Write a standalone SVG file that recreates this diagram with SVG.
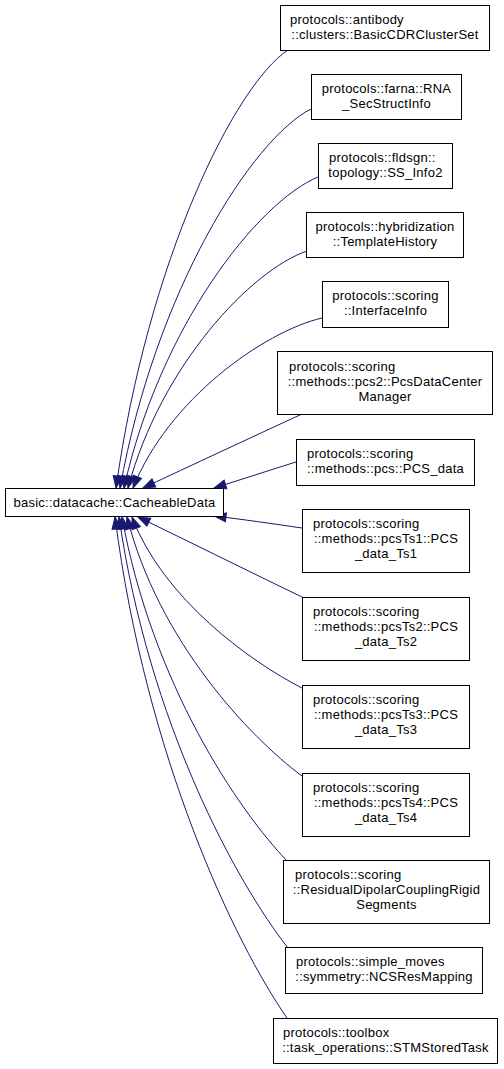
<svg xmlns="http://www.w3.org/2000/svg" width="504" height="1069" viewBox="0 0 504 1069">
<style>
.box{fill:#fff;stroke:#000;stroke-width:1}
.t{font-family:"Liberation Sans",Arial,Helvetica,sans-serif;font-size:13px;letter-spacing:0.25px;fill:#000}
.s{text-anchor:start}
.m{text-anchor:middle}
.e{fill:none;stroke:#191970;stroke-width:1;marker-end:url(#arr)}
</style>
<defs>
<marker id="arr" markerUnits="userSpaceOnUse" markerWidth="14" markerHeight="12" refX="12" refY="5" orient="auto" viewBox="0 0 14 10" overflow="visible">
<path d="M0,0.5 L12,5 L0,9.5 z" fill="#191970" stroke="#191970" stroke-width="1"/>
</marker>
</defs>
<rect width="504" height="1069" fill="#fff"/>
<g id="connectors">
<path class="e" d="M288,50 C235,85 148,260 116,488"/>
<path class="e" d="M311,109 C252,139 155.5,291 120,488"/>
<path class="e" d="M318,177 C258,202 160,326 124,488"/>
<path class="e" d="M307,251 C251.5,270 161,365 128,488"/>
<path class="e" d="M322,318 C263,332 168,400 133,488"/>
<path class="e" d="M302,414 C250,438 190,466 143,488"/>
<path class="e" d="M296,462 C270,470 240,480 214,488"/>
<path class="e" d="M302,528 C275,524 240,519 214,516"/>
<path class="e" d="M302,597 C250,572 190,542 138,517"/>
<path class="e" d="M302,688 C251,662 163,599 132,517"/>
<path class="e" d="M302,776 C249.5,737 158.5,641 127,517"/>
<path class="e" d="M288,862 C238,810 152,683 122,517"/>
<path class="e" d="M288,948 C237,883 149,724 119,517"/>
<path class="e" d="M287,1018 C235,943 146,758 115,517"/>
</g>
<g id="node-base">
<rect class="box" x="5.5" y="488.5" width="218" height="28"/>
<text class="t m" x="114.5" y="507">basic::datacache::CacheableData</text>
</g>
<g id="node-antibody">
<rect class="box" x="280.5" y="5.5" width="209" height="45"/>
<text class="t s" x="290" y="24">protocols::antibody</text>
<text class="t m" x="385" y="39">::clusters::BasicCDRClusterSet</text>
</g>
<g id="node-farna">
<rect class="box" x="311.5" y="74.5" width="150" height="45"/>
<text class="t m" x="386.5" y="93">protocols::farna::RNA</text>
<text class="t m" x="386.5" y="108">_SecStructInfo</text>
</g>
<g id="node-fldsgn">
<rect class="box" x="318.5" y="143.5" width="134" height="45"/>
<text class="t s" x="329" y="162">protocols::fldsgn::</text>
<text class="t m" x="385.5" y="177">topology::SS_Info2</text>
</g>
<g id="node-hybridization">
<rect class="box" x="306.5" y="212.5" width="157" height="45"/>
<text class="t m" x="385" y="231">protocols::hybridization</text>
<text class="t m" x="385" y="246">::TemplateHistory</text>
</g>
<g id="node-interfaceinfo">
<rect class="box" x="322.5" y="281.5" width="126" height="46"/>
<text class="t m" x="385.5" y="300">protocols::scoring</text>
<text class="t m" x="385.5" y="315">::InterfaceInfo</text>
</g>
<g id="node-pcs2">
<rect class="box" x="277.5" y="351.5" width="215" height="63"/>
<text class="t s" x="289" y="371">protocols::scoring</text>
<text class="t m" x="385" y="386">::methods::pcs2::PcsDataCenter</text>
<text class="t m" x="385" y="401">Manager</text>
</g>
<g id="node-pcs">
<rect class="box" x="296.5" y="439.5" width="178" height="46"/>
<text class="t s" x="307" y="458">protocols::scoring</text>
<text class="t m" x="385.5" y="473">::methods::pcs::PCS_data</text>
</g>
<g id="node-pcsts1">
<rect class="box" x="302.5" y="509.5" width="167" height="63"/>
<text class="t s" x="313" y="528">protocols::scoring</text>
<text class="t m" x="386" y="543">::methods::pcsTs1::PCS</text>
<text class="t m" x="386" y="558">_data_Ts1</text>
</g>
<g id="node-pcsts2">
<rect class="box" x="302.5" y="597.5" width="167" height="63"/>
<text class="t s" x="313" y="616">protocols::scoring</text>
<text class="t m" x="386" y="631">::methods::pcsTs2::PCS</text>
<text class="t m" x="386" y="646">_data_Ts2</text>
</g>
<g id="node-pcsts3">
<rect class="box" x="302.5" y="685.5" width="167" height="63"/>
<text class="t s" x="313" y="704">protocols::scoring</text>
<text class="t m" x="386" y="719">::methods::pcsTs3::PCS</text>
<text class="t m" x="386" y="734">_data_Ts3</text>
</g>
<g id="node-pcsts4">
<rect class="box" x="302.5" y="773.5" width="167" height="63"/>
<text class="t s" x="313" y="792">protocols::scoring</text>
<text class="t m" x="386" y="807">::methods::pcsTs4::PCS</text>
<text class="t m" x="386" y="822">_data_Ts4</text>
</g>
<g id="node-rdc">
<rect class="box" x="283.5" y="860.5" width="206" height="63"/>
<text class="t s" x="295" y="879">protocols::scoring</text>
<text class="t m" x="386.5" y="894">::ResidualDipolarCouplingRigid</text>
<text class="t m" x="386.5" y="909">Segments</text>
</g>
<g id="node-ncsresmapping">
<rect class="box" x="285.5" y="947.5" width="197" height="46"/>
<text class="t s" x="296" y="966">protocols::simple_moves</text>
<text class="t m" x="384" y="981">::symmetry::NCSResMapping</text>
</g>
<g id="node-stmstoredtask">
<rect class="box" x="273.5" y="1018.5" width="224" height="45"/>
<text class="t s" x="283" y="1037">protocols::toolbox</text>
<text class="t m" x="385.5" y="1052">::task_operations::STMStoredTask</text>
</g>
</svg>
